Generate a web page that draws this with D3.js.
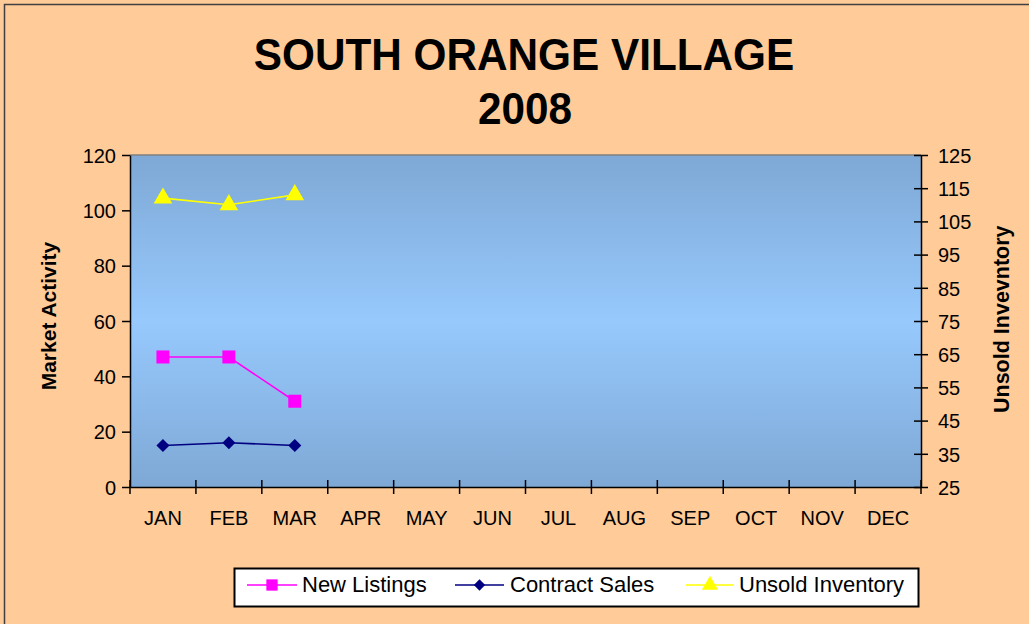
<!DOCTYPE html>
<html>
<head>
<script src="https://cdn.jsdelivr.net/npm/d3@7"></script>
<style>
  body { margin: 0; background: #fff; }
  text { font-family: Arial, "Liberation Sans", sans-serif; fill: #000; }
</style>
</head>
<body>
<div id="chart"></div>
<script>
  var months = ['JAN', 'FEB', 'MAR', 'APR', 'MAY', 'JUN', 'JUL', 'AUG', 'SEP', 'OCT', 'NOV', 'DEC'];
  var newListings = [47, 47, 31];
  var contractSales = [15, 16, 15];
  var unsoldInventory = [112, 110, 113];
  var leftTicks = [0, 20, 40, 60, 80, 100, 120];
  var rightTicks = [25, 35, 45, 55, 65, 75, 85, 95, 105, 115, 125];

  var W = 1029, H = 624;
  var plot = { left: 130, right: 921, top: 155, bottom: 487 };

  var svg = d3.select('#chart').append('svg')
    .attr('width', W)
    .attr('height', H);

  // background + outer frame
  svg.append('rect').attr('x', 0).attr('y', 0).attr('width', W).attr('height', H).attr('fill', '#FFCB98');
  svg.append('rect').attr('x', 4.5).attr('y', 4.5).attr('width', W + 20).attr('height', H + 20)
    .attr('fill', 'none').attr('stroke', '#404040').attr('stroke-width', 1.5);

  var grad = svg.append('defs').append('linearGradient')
    .attr('id', 'plotGrad').attr('x1', 0).attr('y1', 0).attr('x2', 0).attr('y2', 1);
  grad.append('stop').attr('offset', '0%').attr('stop-color', '#7EA8D5');
  grad.append('stop').attr('offset', '50%').attr('stop-color', '#97C9FD');
  grad.append('stop').attr('offset', '100%').attr('stop-color', '#7EA8D5');

  var x = d3.scaleBand().domain(months).range([plot.left, plot.right]);
  var yL = d3.scaleLinear().domain([0, 120]).range([plot.bottom, plot.top]);
  var yR = d3.scaleLinear().domain([25, 125]).range([plot.bottom, plot.top]);

  svg.append('rect')
    .attr('x', plot.left).attr('y', plot.top)
    .attr('width', plot.right - plot.left).attr('height', plot.bottom - plot.top)
    .attr('fill', 'url(#plotGrad)');
  svg.append('line')
    .attr('x1', plot.left).attr('x2', plot.right).attr('y1', plot.top).attr('y2', plot.top)
    .attr('stroke', '#808080').attr('stroke-width', 1.5);

  // title (slightly condensed like the original)
  svg.append('text').attr('transform', 'translate(524,70) scale(0.94,1)').attr('text-anchor', 'middle')
    .style('font-size', '45px').style('font-weight', 'bold').text('SOUTH ORANGE VILLAGE');
  svg.append('text').attr('transform', 'translate(525,124) scale(0.94,1)').attr('text-anchor', 'middle')
    .style('font-size', '45px').style('font-weight', 'bold').text('2008');

  // left axis
  var gL = svg.append('g').attr('transform', 'translate(' + plot.left + ',0)')
    .call(d3.axisLeft(yL).tickValues(leftTicks).tickSizeInner(8).tickSizeOuter(0).tickPadding(6));
  // right axis
  var gR = svg.append('g').attr('transform', 'translate(' + plot.right + ',0)')
    .call(d3.axisRight(yR).tickValues(rightTicks).tickSizeInner(7).tickSizeOuter(0).tickPadding(10));
  gR.selectAll('.tick line').attr('x1', -7);

  // bottom axis: labels at category centres, ticks at category boundaries
  var gB = svg.append('g').attr('transform', 'translate(0,' + plot.bottom + ')')
    .call(d3.axisBottom(x).tickSize(0).tickPadding(24));
  gB.selectAll('.tick text').attr('dy', '0.71em');
  var bounds = months.map(function(m) { return x(m); }).concat([x(months[11]) + x.bandwidth()]);
  gB.selectAll('line.bound').data(bounds).enter().append('line')
    .attr('class', 'bound')
    .attr('x1', function(d) { return d; }).attr('x2', function(d) { return d; })
    .attr('y1', -7).attr('y2', 7)
    .attr('stroke', '#000').attr('stroke-width', 1.5);

  [gL, gR, gB].forEach(function(g) {
    g.selectAll('.domain').attr('stroke', '#000').attr('stroke-width', 1.5);
    g.selectAll('.tick line').attr('stroke', '#000').attr('stroke-width', 1.5);
    g.selectAll('.tick text').style('font-size', '20px').attr('fill', '#000')
      .style('font-family', 'Arial, "Liberation Sans", sans-serif');
  });
  gL.selectAll('.tick text').attr('dy', '0.36em');
  gR.selectAll('.tick text').attr('dy', '0.36em');

  // axis titles
  svg.append('text').attr('transform', 'translate(56,' + 316 + ') rotate(-90)')
    .attr('text-anchor', 'middle').style('font-size', '21px').style('font-weight', 'bold')
    .text('Market Activity');
  svg.append('text').attr('transform', 'translate(1009,413) rotate(-90)')
    .attr('text-anchor', 'start').style('font-size', '21.5px').style('font-weight', 'bold')
    .text('Unsold Invevntory');

  // series
  var series = [
    { name: 'New Listings', values: newListings, y: yL, color: '#FF00FF', symbol: d3.symbolSquare, size: 170, rot: 0 },
    { name: 'Contract Sales', values: contractSales, y: yL, color: '#000080', symbol: d3.symbolSquare, size: 85, rot: 45 },
    { name: 'Unsold Inventory', values: unsoldInventory, y: yR, color: '#FFFF00', symbol: d3.symbolTriangle, size: 150, rot: 0 }
  ];

  series.forEach(function(s) {
    var line = d3.line()
      .x(function(d, i) { return x(months[i]) + x.bandwidth() / 2; })
      .y(function(d) { return s.y(d); });
    svg.append('path').datum(s.values)
      .attr('d', line).attr('fill', 'none')
      .attr('stroke', s.color).attr('stroke-width', 1.6);
    svg.selectAll(null).data(s.values).enter().append('path')
      .attr('d', d3.symbol().type(s.symbol).size(s.size))
      .attr('transform', function(d, i) {
        return 'translate(' + (x(months[i]) + x.bandwidth() / 2) + ',' + s.y(d) + ') rotate(' + s.rot + ')';
      })
      .attr('fill', s.color);
  });

  // legend
  var legend = svg.append('g');
  legend.append('rect').attr('x', 234.5).attr('y', 568.5).attr('width', 684).attr('height', 38)
    .attr('fill', '#fff').attr('stroke', '#000').attr('stroke-width', 2);
  var legendPos = [{ x1: 247, x2: 297, tx: 302 }, { x1: 455, x2: 504, tx: 510 }, { x1: 686, x2: 734, tx: 739 }];
  series.forEach(function(s, i) {
    var p = legendPos[i];
    legend.append('line').attr('x1', p.x1).attr('x2', p.x2).attr('y1', 585).attr('y2', 585)
      .attr('stroke', s.color).attr('stroke-width', 1.6);
    legend.append('path').attr('d', d3.symbol().type(s.symbol).size(s.size * 0.75))
      .attr('transform', 'translate(' + ((p.x1 + p.x2) / 2) + ',585) rotate(' + s.rot + ')')
      .attr('fill', s.color);
    legend.append('text').attr('x', p.tx).attr('y', 592).style('font-size', '22px').text(s.name);
  });
</script>
</body>
</html>
